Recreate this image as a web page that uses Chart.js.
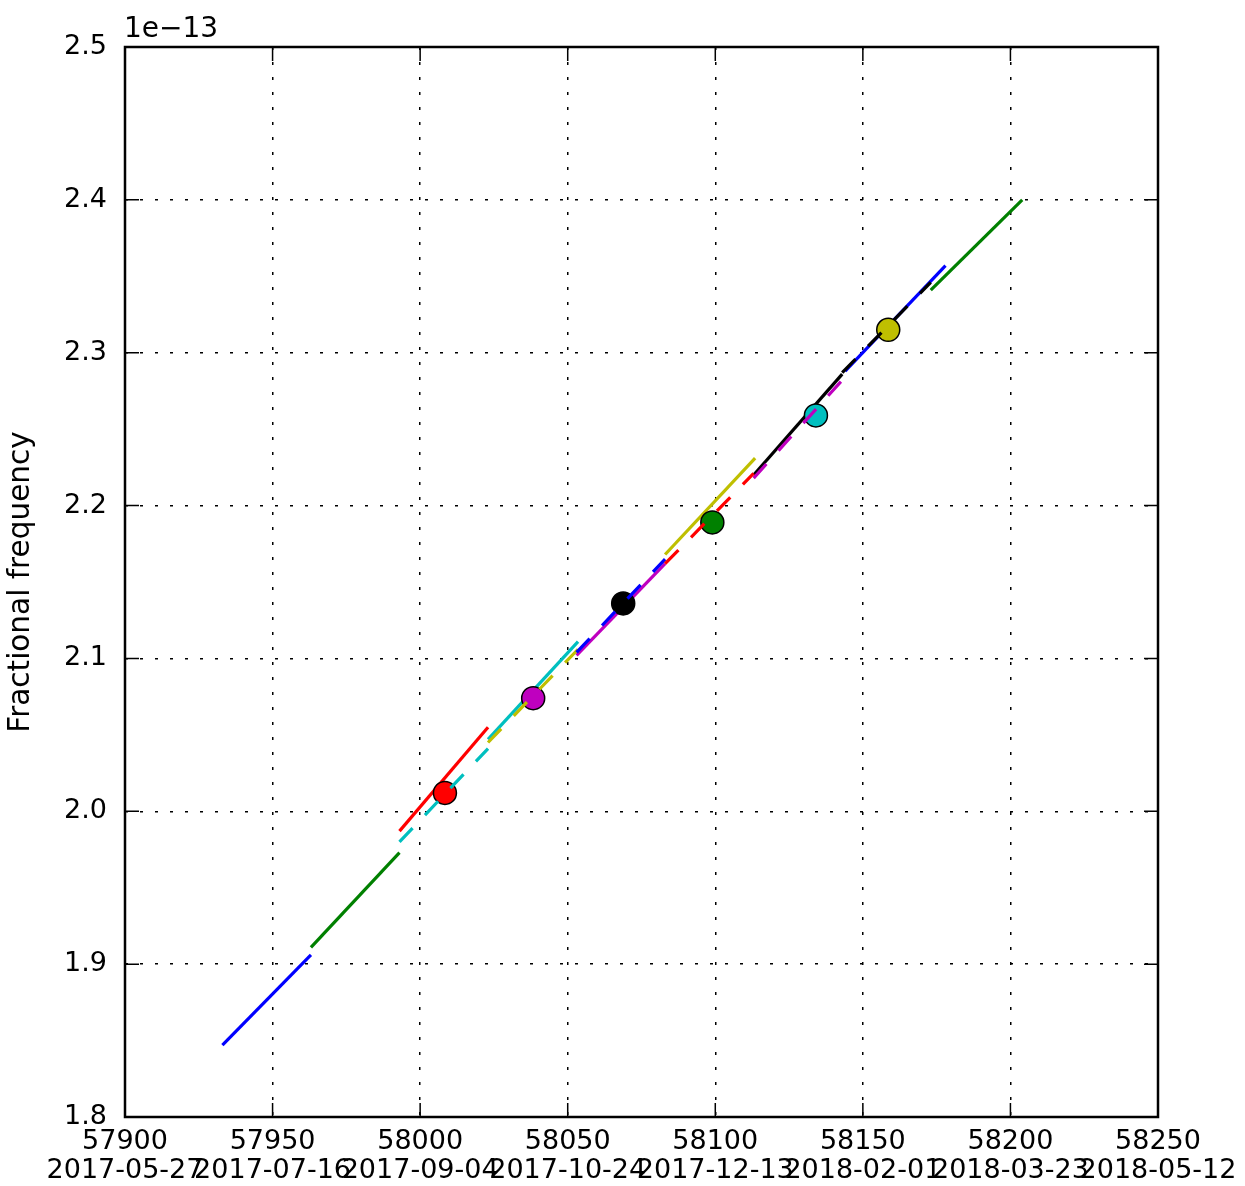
<!DOCTYPE html>
<html>
<head>
<meta charset="utf-8">
<script src="https://cdn.jsdelivr.net/npm/chart.js@4.4.1/dist/chart.umd.min.js"></script>
<style>
  html, body { margin: 0; padding: 0; background: #ffffff; }
  canvas { display: block; }
</style>
</head>
<body>
<canvas id="chart" width="1245" height="1186"></canvas>
<script>
// Fractional frequency values are given in units of 1e-13.
const xTicks = [57900, 57950, 58000, 58050, 58100, 58150, 58200, 58250];
const xTickDates = ['2017-05-27', '2017-07-16', '2017-09-04', '2017-10-24',
                    '2017-12-13', '2018-02-01', '2018-03-23', '2018-05-12'];
const yTicks = [1.8, 1.9, 2.0, 2.1, 2.2, 2.3, 2.4, 2.5];
const yOffsetLabel = '1e\u221213';
const yTitle = 'Fractional frequency';

// Linear fits over successive windows (solid lines), MJD and value at each end
const fitStartMjd = [57933, 57963, 57993, 58023, 58053, 58083, 58113, 58144, 58173];
const fitEndMjd   = [57963, 57993, 58023, 58053.5, 58083, 58113.5, 58143, 58178, 58204];
const fitStartVal = [1.847, 1.911, 1.987, 2.047, 2.102, 2.168, 2.220, 2.288, 2.341];
const fitEndVal   = [1.906, 1.973, 2.055, 2.111, 2.162, 2.231, 2.286, 2.357, 2.400];

// Point estimates, each followed by its local fit (dashed lines)
const pointMjd = [58008.4, 58038.3, 58068.8, 58099.0, 58134.1, 58158.6];
const pointVal = [2.012, 2.074, 2.136, 2.189, 2.259, 2.315];
const localStartMjd = [57993, 58023, 58053, 58083, 58113, 58143];
const localEndMjd   = [58023, 58053.5, 58083, 58113, 58143, 58173];
const localStartVal = [1.980, 2.045, 2.104, 2.162, 2.218, 2.287];
const localEndVal   = [2.041, 2.106, 2.165, 2.221, 2.282, 2.346];

const FONT = 'DejaVu Sans';
const cycle = ['#0000ff', '#008000', '#ff0000', '#00bfbf', '#bf00bf', '#bfbf00', '#000000'];
let colorIndex = 0;
const nextColor = () => cycle[(colorIndex++) % cycle.length];

const datasets = [];
function addSegment(x0, y0, x1, y1, dashed) {
  datasets.push({
    data: [{ x: x0, y: y0 }, { x: x1, y: y1 }],
    showLine: true,
    borderColor: nextColor(),
    borderWidth: 3.2,
    borderDash: dashed ? [19, 18] : [],
    pointRadius: 0,
    pointHoverRadius: 0,
    fill: false
  });
}
function addPoint(x, y) {
  const c = nextColor();
  datasets.push({
    data: [{ x: x, y: y }],
    showLine: false,
    pointRadius: 11.5,
    pointHoverRadius: 11.5,
    pointBackgroundColor: c,
    pointBorderColor: '#000000',
    pointBorderWidth: 1.5
  });
}

for (let i = 0; i < fitStartMjd.length; i++) {
  addSegment(fitStartMjd[i], fitStartVal[i], fitEndMjd[i], fitEndVal[i], false);
}
for (let i = 0; i < pointMjd.length; i++) {
  addPoint(pointMjd[i], pointVal[i]);
  addSegment(localStartMjd[i], localStartVal[i], localEndMjd[i], localEndVal[i], true);
}
// later datasets are painted on top
datasets.forEach((d, i) => { d.order = datasets.length - i; });

// Box frame, inward ticks on all four sides and the y offset label
const framePlugin = {
  id: 'frame',
  afterDraw(chart) {
    const { ctx, chartArea: a, scales: { x, y } } = chart;
    const len = 14;
    ctx.save();
    ctx.strokeStyle = '#000000';
    ctx.lineWidth = 1.5;
    ctx.beginPath();
    xTicks.forEach(v => {
      const px = x.getPixelForValue(v);
      ctx.moveTo(px, a.bottom); ctx.lineTo(px, a.bottom - len);
      ctx.moveTo(px, a.top); ctx.lineTo(px, a.top + len);
    });
    yTicks.forEach(v => {
      const py = y.getPixelForValue(v);
      ctx.moveTo(a.left, py); ctx.lineTo(a.left + len, py);
      ctx.moveTo(a.right, py); ctx.lineTo(a.right - len, py);
    });
    ctx.stroke();
    ctx.lineWidth = 2.5;
    ctx.strokeRect(a.left, a.top, a.right - a.left, a.bottom - a.top);
    ctx.fillStyle = '#000000';
    ctx.font = '28px "' + FONT + '"';
    ctx.textAlign = 'left';
    ctx.textBaseline = 'alphabetic';
    ctx.fillText(yOffsetLabel, a.left - 1, a.top - 10);
    ctx.restore();
  }
};

const gridOpts = { color: '#000000', lineWidth: 1.5, drawTicks: false };

new Chart(document.getElementById('chart'), {
  type: 'scatter',
  data: { datasets: datasets },
  options: {
    responsive: false,
    animation: false,
    devicePixelRatio: 1,
    layout: { padding: { top: 47, right: 87, bottom: 0, left: 0 } },
    plugins: { legend: { display: false }, tooltip: { enabled: false } },
    scales: {
      x: {
        type: 'linear',
        min: 57900,
        max: 58250,
        z: 1,
        afterBuildTicks: s => { s.ticks = xTicks.map(v => ({ value: v })); },
        afterFit: s => { s.height = 69; s.paddingLeft = 0; s.paddingRight = 0; },
        grid: gridOpts,
        border: { display: false, dash: [3, 12] },
        ticks: {
          autoSkip: false,
          maxRotation: 0,
          minRotation: 0,
          padding: 11,
          color: '#000000',
          font: { family: FONT, size: 27, lineHeight: 1.05 },
          callback: v => [String(v), xTickDates[xTicks.indexOf(v)]]
        }
      },
      y: {
        type: 'linear',
        min: 1.8,
        max: 2.5,
        z: 1,
        afterBuildTicks: s => { s.ticks = yTicks.map(v => ({ value: v })); },
        afterFit: s => { s.width = 125; s.paddingTop = 0; s.paddingBottom = 0; },
        grid: gridOpts,
        border: { display: false, dash: [3, 12] },
        ticks: {
          padding: 18,
          color: '#000000',
          font: { family: FONT, size: 27 },
          callback: v => Number(v).toFixed(1)
        },
        title: {
          display: true,
          text: yTitle,
          color: '#000000',
          font: { family: FONT, size: 29.5 },
          padding: { top: 4, bottom: 0 }
        }
      }
    }
  },
  plugins: [framePlugin]
});
</script>
</body>
</html>
